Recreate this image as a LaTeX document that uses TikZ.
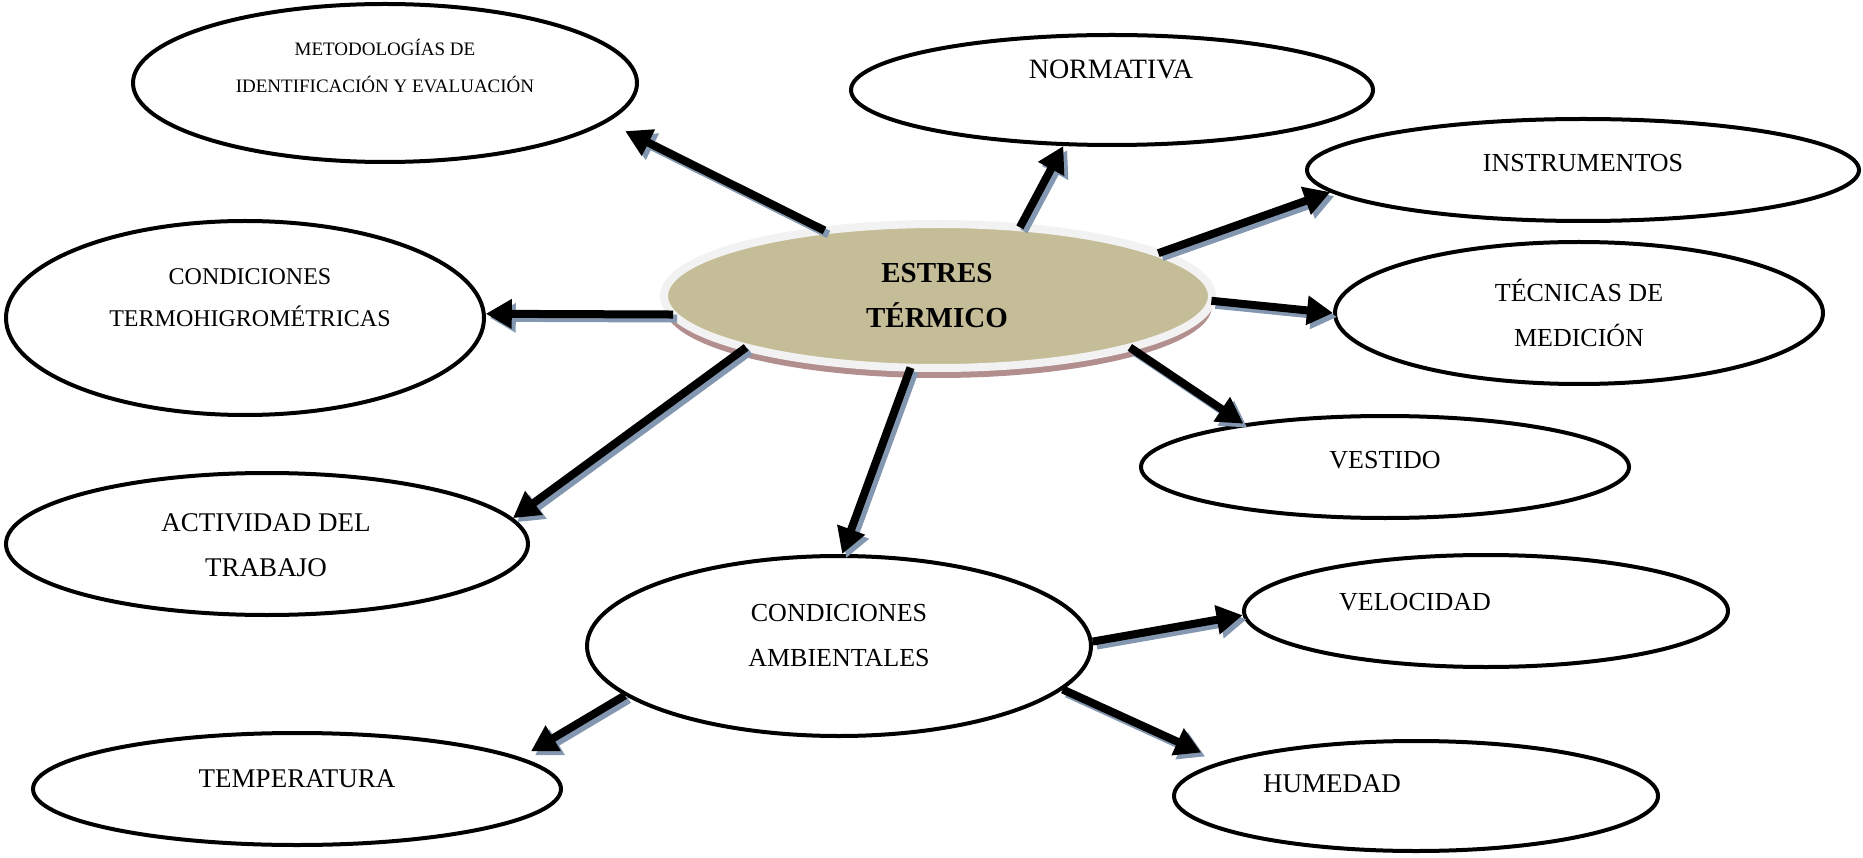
\documentclass[tikz,border=0pt]{standalone}
\usepackage{fontspec}
\setmainfont{Liberation Serif}
\usetikzlibrary{arrows.meta,
                shapes.geometric,
                shadows}
\definecolor{caqui}{HTML}{C4BD97}
\definecolor{anillo}{HTML}{F2F2F2}
\definecolor{rosado}{HTML}{B38E8E}
\definecolor{sombraazul}{HTML}{8497B0}

\begin{document}
\begin{tikzpicture}[x=1pt, y=-1pt,
   elipse/.style = {ellipse, draw, line width=4pt, inner sep=0pt},
  central/.style = {ellipse, fill=caqui, draw=anillo, line width=8pt,
                    inner sep=0pt, outer sep=0pt,
                    drop shadow={shadow xshift=0pt, shadow yshift=-10pt,
                                 fill=rosado, opacity=1}},
   rotulo/.style = {align=center, font=\fontsize{26}{45}\selectfont},
  pequeno/.style = {align=center, font=\fontsize{19}{37}\selectfont},
   flecha/.style = {line width=8pt, -{Triangle[length=26pt,width=28pt]}},
   sombra/.style = {flecha, draw=sombraazul, fill=sombraazul,
                    transform canvas={shift={(4pt,-4pt)}}}
                    ]
\useasboundingbox (0,0) rectangle (1863,858);
 % ellipses
\node (metod)       [elipse, minimum width=504pt, minimum height=158pt] at (385,83)  {};
\node (normativa)   [elipse, minimum width=522pt, minimum height=110pt] at (1112,90) {};
\node (instrum)     [elipse, minimum width=552pt, minimum height=102pt] at (1583,170) {};
\node (tecnicas)    [elipse, minimum width=488pt, minimum height=142pt] at (1579,313) {};
\node (vestido)     [elipse, minimum width=488pt, minimum height=102pt] at (1385,467) {};
\node (termo)       [elipse, minimum width=478pt, minimum height=194pt] at (245,318) {};
\node (actividad)   [elipse, minimum width=522pt, minimum height=142pt] at (267,544) {};
\node (ambient)     [elipse, minimum width=504pt, minimum height=180pt] at (839,646) {};
\node (velocidad)   [elipse, minimum width=484pt, minimum height=112pt] at (1486,611) {};
\node (temperatura) [elipse, minimum width=528pt, minimum height=112pt] at (297,789) {};
\node (humedad)     [elipse, minimum width=484pt, minimum height=110pt] at (1416,796) {};
\node (centro)      [central, minimum width=548pt, minimum height=144pt] at (938,296) {};
 % texts
\node (t-metod)     [pequeno] at (385,66)   {METODOLOGÍAS DE\\IDENTIFICACIÓN Y EVALUACIÓN};
\node (t-normativa) [rotulo, font=\fontsize{28}{45}\selectfont] at (1111,69) {NORMATIVA};
\node (t-instrum)   [rotulo]  at (1583,163) {INSTRUMENTOS};
\node (t-tecnicas)  [rotulo]  at (1579,313) {TÉCNICAS DE\\MEDICIÓN};
\node (t-vestido)   [rotulo]  at (1385,460) {VESTIDO};
\node (t-termo)     [rotulo, font=\fontsize{24}{42}\selectfont] at (250,298) {CONDICIONES\\TERMOHIGROMÉTRICAS};
\node (t-actividad) [rotulo, font=\fontsize{27}{45}\selectfont] at (266,545) {ACTIVIDAD DEL\\TRABAJO};
\node (t-ambient)   [rotulo]  at (839,636)  {CONDICIONES\\AMBIENTALES};
\node (t-velocidad) [rotulo]  at (1415,602) {VELOCIDAD};
\node (t-temper)    [rotulo, font=\fontsize{27}{45}\selectfont] at (297,779) {TEMPERATURA};
\node (t-humedad)   [rotulo, font=\fontsize{27}{45}\selectfont] at (1332,784) {HUMEDAD};
\node (t-centro)    [rotulo, font=\fontsize{29}{45}\selectfont\bfseries]
                              at (937,296)  {ESTRES\\TÉRMICO};
 % arrows
\foreach \a/\b/\s in {centro.150/metod.350/20, centro.40/normativa.229/0,
                      centro.11/instrum.185/0, centro.359/tecnicas.180/0,
                      centro.345/vestido.163/0, centro.184/termo.1/0,
                      centro.195/actividad.6/0, centro.249/ambient.88/0,
                      ambient.1/velocidad.181/0, ambient.193/temperatura.8/12,
                      ambient.349/humedad.170/22}
  {
  \draw[sombra, shorten >=\s pt] (\a) -- (\b);
  \draw[flecha, shorten >=\s pt] (\a) -- (\b);
  }
\end{tikzpicture}
\end{document}
